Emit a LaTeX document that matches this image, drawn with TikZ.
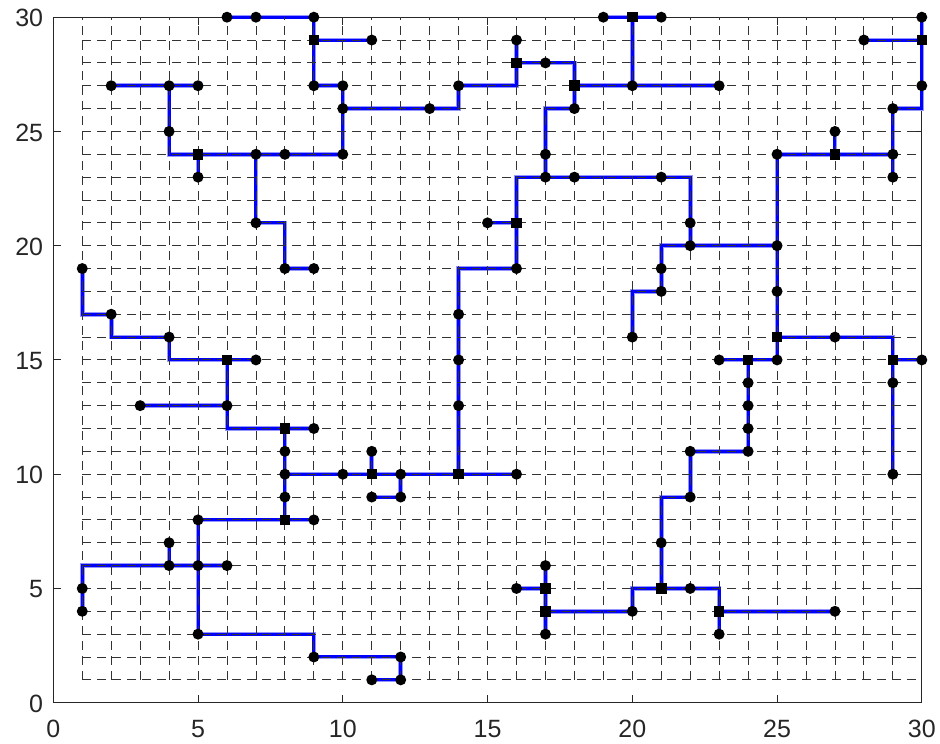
\documentclass[tikz,border=0pt]{standalone}
\usepackage{fontspec}
\setmainfont{Liberation Sans}
\definecolor{axgray}{RGB}{38,38,38}
\definecolor{mblue}{RGB}{0,0,255}
\definecolor{halo}{RGB}{150,150,255}
\begin{document}
\begin{tikzpicture}[x=28.95pt,y=22.85pt,
  tree/.style={draw=mblue, line width=3pt, line join=miter, preaction={draw=halo, line width=4.6pt}},
  gridln/.style={draw=black!80, line width=0.9pt, dash pattern=on 9pt off 6pt},
  axisln/.style={draw=axgray, line width=1pt},
  term/.style={circle, fill=black, draw=none, minimum size=11pt, inner sep=0pt},
  stein/.style={rectangle, fill=black, draw=none, minimum size=10.5pt, inner sep=0pt},
  ticklab/.style={text=axgray, inner sep=0pt, font=\fontsize{25}{30}\selectfont}]
\useasboundingbox (-53.3pt,-41.3pt) rectangle ++(940pt,744pt);
% grid point coordinates
\foreach \i in {0,...,30}{\foreach \j in {0,...,30}{\coordinate (g\i-\j) at (\i,\j);}}
% axes box and ticks
\draw[axisln] (g0-0) rectangle (g30-30);
\foreach \v in {0,5,...,30}{
  \draw[axisln] (g\v-0) -- ++(0,8pt);
  \draw[axisln] (g\v-30) -- ++(0,-8pt);
  \draw[axisln] (g0-\v) -- ++(8pt,0);
  \draw[axisln] (g30-\v) -- ++(-8pt,0);
  \node[ticklab, anchor=north, yshift=-17pt] (xl\v) at (g\v-0) {\v};
  \node[ticklab, anchor=east, xshift=-10pt, yshift=-1pt] (yl\v) at (g0-\v) {\v};
}
% tree
\draw[tree] (g6-30) -- (g9-30) -- (g9-27) -- (g10-27) -- (g10-24);
\draw[tree] (g9-29) -- (g11-29);
\draw[tree] (g10-26) -- (g14-26) -- (g14-27) -- (g16-27) -- (g16-29);
\draw[tree] (g16-28) -- (g18-28) -- (g18-26) -- (g17-26) -- (g17-23);
\draw[tree] (g18-27) -- (g23-27);
\draw[tree] (g19-30) -- (g21-30);
\draw[tree] (g20-30) -- (g20-27);
\draw[tree] (g15-21) -- (g16-21);
\draw[tree] (g16-19) -- (g16-23) -- (g22-23) -- (g22-20);
\draw[tree] (g16-19) -- (g14-19) -- (g14-10);
\draw[tree] (g8-10) -- (g16-10);
\draw[tree] (g11-10) -- (g11-11);
\draw[tree] (g12-10) -- (g12-9) -- (g11-9);
\draw[tree] (g2-27) -- (g5-27);
\draw[tree] (g4-27) -- (g4-24) -- (g10-24);
\draw[tree] (g5-24) -- (g5-23);
\draw[tree] (g7-24) -- (g7-21) -- (g8-21) -- (g8-19) -- (g9-19);
\draw[tree] (g1-19) -- (g1-17) -- (g2-17) -- (g2-16) -- (g4-16) -- (g4-15) -- (g7-15);
\draw[tree] (g6-15) -- (g6-12) -- (g9-12);
\draw[tree] (g3-13) -- (g6-13);
\draw[tree] (g8-12) -- (g8-8);
\draw[tree] (g5-8) -- (g9-8);
\draw[tree] (g5-8) -- (g5-3) -- (g9-3) -- (g9-2) -- (g12-2) -- (g12-1) -- (g11-1);
\draw[tree] (g1-4) -- (g1-6) -- (g6-6);
\draw[tree] (g4-6) -- (g4-7);
\draw[tree] (g16-5) -- (g17-5);
\draw[tree] (g17-6) -- (g17-3);
\draw[tree] (g17-4) -- (g20-4) -- (g20-5) -- (g23-5) -- (g23-3);
\draw[tree] (g23-4) -- (g27-4);
\draw[tree] (g21-5) -- (g21-9) -- (g22-9) -- (g22-11) -- (g24-11) -- (g24-15);
\draw[tree] (g23-15) -- (g25-15) -- (g25-24) -- (g29-24);
\draw[tree] (g21-18) -- (g21-20) -- (g25-20);
\draw[tree] (g21-18) -- (g20-18) -- (g20-16);
\draw[tree] (g27-24) -- (g27-25);
\draw[tree] (g29-23) -- (g29-26) -- (g30-26) -- (g30-30);
\draw[tree] (g28-29) -- (g30-29);
\draw[tree] (g25-16) -- (g29-16) -- (g29-10);
\draw[tree] (g29-15) -- (g30-15);
% dashed grid
\foreach \i in {1,...,29}{
  \draw[gridln] (g\i-1) -- (g\i-30);
  \draw[gridln] (g1-\i) -- (g30-\i);
}
% terminals
\foreach \x/\y in {6/30,7/30,9/30,11/29,9/27,10/27,10/26,13/26,14/27,16/29,17/28,18/26,17/24,17/23,18/23,19/30,21/30,20/27,23/27,21/23,22/21,22/20,15/21,16/19,14/17,14/15,14/13,10/10,12/10,16/10,11/11,11/9,12/9,2/27,4/27,5/27,4/25,5/23,7/24,8/24,10/24,7/21,8/19,9/19,1/19,2/17,4/16,7/15,6/13,3/13,9/12,8/11,8/10,8/9,5/8,9/8,5/6,5/3,9/2,12/2,12/1,11/1,1/5,1/4,4/6,6/6,4/7,16/5,17/6,17/3,20/4,22/5,23/3,27/4,21/7,22/9,22/11,24/11,24/12,24/13,24/14,23/15,25/15,25/18,25/20,25/24,21/19,21/18,20/16,28/29,30/30,30/27,29/26,29/24,29/23,27/25,27/16,30/15,29/14,29/10}
  \node[term] (t\x-\y) at (g\x-\y) {};
% Steiner points
\foreach \x/\y in {9/29,16/28,18/27,20/30,16/21,11/10,14/10,5/24,6/15,8/12,8/8,17/5,17/4,21/5,23/4,24/15,25/16,27/24,30/29,29/15}
  \node[stein] (s\x-\y) at (g\x-\y) {};
\end{tikzpicture}
\end{document}
